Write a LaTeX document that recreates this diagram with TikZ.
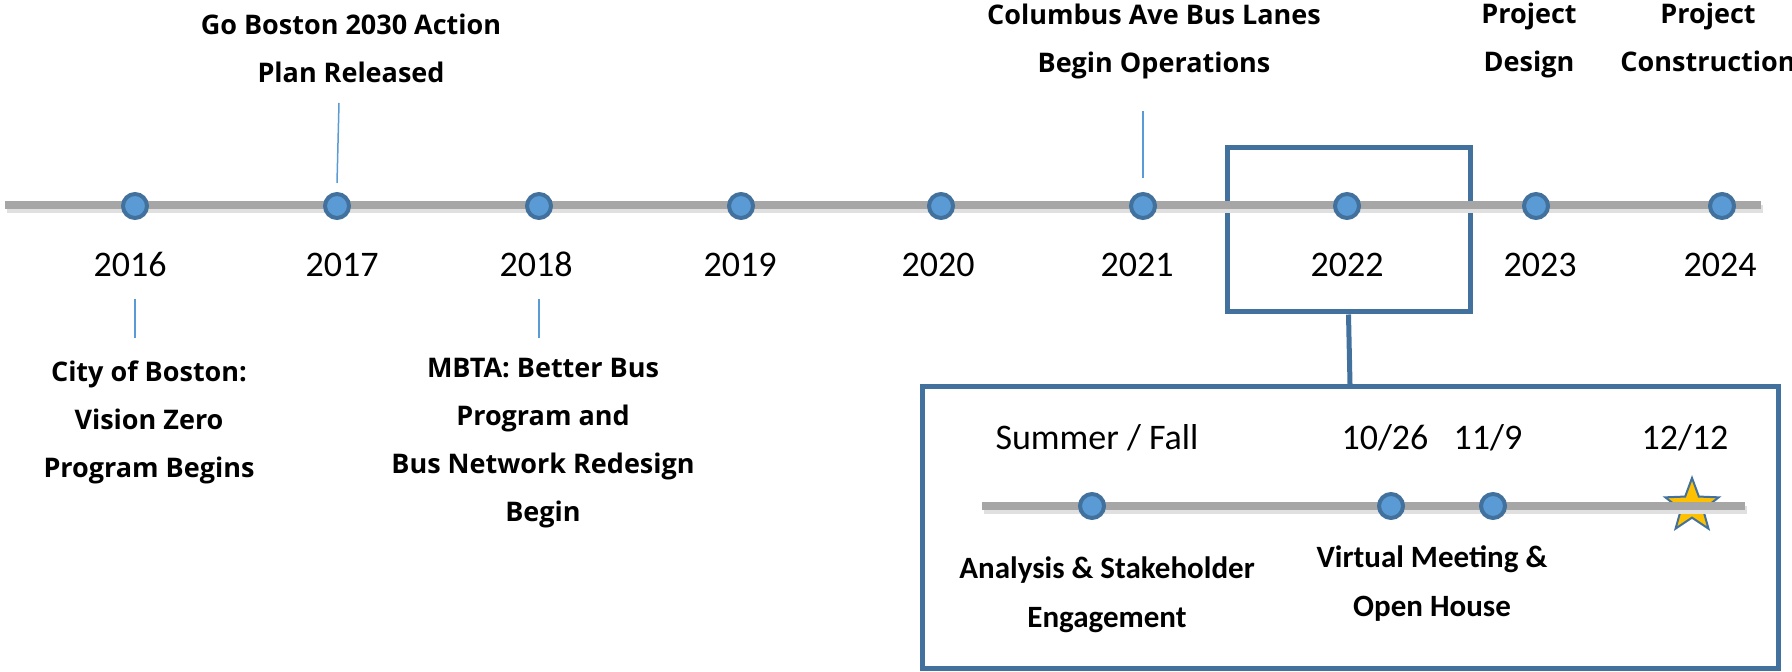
\documentclass[tikz,border=0pt]{standalone}
\usepackage{fontspec}
\setmainfont{Carlito}
\newfontfamily\lblfont{Open Sans}
\usetikzlibrary{shapes.geometric}
\definecolor{dotfill}{HTML}{5B9BD5}
\definecolor{dotedge}{HTML}{41719C}
\definecolor{axisgray}{HTML}{A6A6A6}
\definecolor{starfill}{HTML}{FFC000}
\begin{document}
\begin{tikzpicture}[x=0.5pt,y=-0.5pt,
  dot/.style={circle,fill=dotfill,draw=dotedge,line width=2pt,minimum size=12pt,inner sep=0pt},
  yearlbl/.style={font=\fontsize{18}{20}\selectfont,anchor=base,inner sep=0pt},
  evlbl/.style={font=\lblfont\bfseries\fontsize{13.5}{24}\selectfont,align=center,anchor=base,inner sep=0pt},
  inlbl/.style={font=\bfseries\fontsize{15.5}{24.5}\selectfont,align=center,anchor=base,inner sep=0pt},
  tickline/.style={draw=dotfill,line width=0.75pt},
  axisline/.style={draw=axisgray,line width=4pt},
  axisshadow/.style={draw=black!12,line width=4pt},
  frame/.style={draw=dotedge,line width=2.5pt,inner sep=0pt}
]
\useasboundingbox (0,0) rectangle (1792,672);

% frames
\node[frame,minimum width=121.5pt,minimum height=82pt] (b22) at (1348.5,230) {};
\node[frame,minimum width=428pt,minimum height=140.5pt] (ins) at (1350,527.5) {};
\draw[dotedge,line width=2.5pt] (b22.south) -- (ins.north);

% main axis
\coordinate (ax0) at (5,205);
\coordinate (ax1) at (1761,205);
\coordinate (sh0) at (7,209);
\coordinate (sh1) at (1763,209);
\draw[axisshadow] (sh0) -- (sh1);
\draw[axisline] (ax0) -- (ax1);

% dots
\foreach \yr/\x in {2016/135,2017/337,2018/539,2019/741,2020/941,2021/1143,2022/1347,2023/1536,2024/1722}
  \node[dot] (d\yr) at (\x,206) {};

% years
\node[yearlbl] (y2016) at (130,277) {2016};
\node[yearlbl] (y2017) at (342,277) {2017};
\node[yearlbl] (y2018) at (536,277) {2018};
\node[yearlbl] (y2019) at (740,277) {2019};
\node[yearlbl] (y2020) at (938,277) {2020};
\node[yearlbl] (y2021) at (1137,277) {2021};
\node[yearlbl] (y2022) at (1347,277) {2022};
\node[yearlbl] (y2023) at (1540,277) {2023};
\node[yearlbl] (y2024) at (1720,277) {2024};

% ticks
\coordinate (t16a) at (135,299); \coordinate (t16b) at (135,338);
\coordinate (t18a) at (539,299); \coordinate (t18b) at (539,338);
\coordinate (t17a) at (339,103); \coordinate (t17b) at (337,183);
\coordinate (t21a) at (1143,111); \coordinate (t21b) at (1143,178);
\draw[tickline] (t16a) -- (t16b);
\draw[tickline] (t18a) -- (t18b);
\draw[tickline] (t17a) -- (t17b);
\draw[tickline] (t21a) -- (t21b);

% event labels (anchor = baseline of last line)
\node[evlbl] (l2016) at (149,478) {City of Boston:\\Vision Zero\\Program Begins};
\node[evlbl] (l2018) at (543,522) {MBTA: Better Bus\\Program and\\Bus Network Redesign\\Begin};
\node[evlbl] (l2017) at (351,83) {Go Boston 2030 Action\\Plan Released};
\node[evlbl] (l2021) at (1154,73) {Columbus Ave Bus Lanes\\Begin Operations};
\node[evlbl] (l2023) at (1529,72) {Project\\Design};
\node[evlbl] (l2024) at (1708,72) {Project\\Construction};

% inset timeline
\node[star,star points=5,star point ratio=2.4,minimum size=28pt,inner sep=0pt,fill=starfill,draw=dotedge,line width=1pt] (st) at (1692,506) {};
\coordinate (ia0) at (982,506);
\coordinate (ia1) at (1745,506);
\coordinate (is0) at (984,510);
\coordinate (is1) at (1747,510);
\draw[axisshadow] (is0) -- (is1);
\draw[axisline] (ia0) -- (ia1);
\node[dot] (e1) at (1092,506) {};
\node[dot] (e2) at (1391,506) {};
\node[dot] (e3) at (1493,506) {};

\node[yearlbl] (dt1) at (1097,450) {Summer / Fall};
\node[yearlbl] (dt2) at (1385,450) {10/26};
\node[yearlbl] (dt3) at (1488,450) {11/9};
\node[yearlbl] (dt4) at (1685,450) {12/12};

\node[inlbl] (il1) at (1107,627) {Analysis \& Stakeholder\\Engagement};
\node[inlbl] (il2) at (1432,617) {Virtual Meeting \&\\Open House};
\end{tikzpicture}
\end{document}
